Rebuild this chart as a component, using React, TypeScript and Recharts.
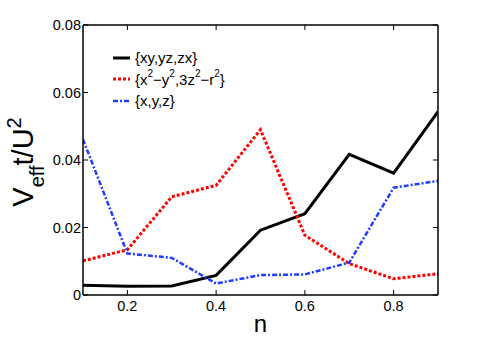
import { LineChart, Line, XAxis, YAxis, Legend, Label } from 'recharts';

const fillings = [0.1, 0.2, 0.3, 0.4, 0.5, 0.6, 0.7, 0.8, 0.9];
const t2gValues = [0.0029, 0.0026, 0.0027, 0.0058, 0.0192, 0.0241, 0.0417, 0.0361, 0.0543];
const egValues = [0.0101, 0.0134, 0.0291, 0.0325, 0.049, 0.0177, 0.0093, 0.0048, 0.0063];
const pValues = [0.0461, 0.0123, 0.011, 0.0034, 0.0059, 0.0061, 0.0096, 0.0318, 0.0338];
const xTicks = [0.2, 0.4, 0.6, 0.8];
const yTicks = [0, 0.02, 0.04, 0.06, 0.08];

const data = fillings.map((n, i) => ({ n, t2g: t2gValues[i], eg: egValues[i], p: pValues[i] }));

const FONT = '"Liberation Sans", Arial, Helvetica, sans-serif';
const TICK_LEN = 5;

const fmtY = (v: number) => (v === 0 ? '0' : v.toFixed(2));

const BottomTick = (props: any) => {
    const { x, y, payload } = props;
    return (
        <g>
            <line x1={x} x2={x} y1={y} y2={y - TICK_LEN} stroke="#000" strokeWidth={1} />
            <text x={x} y={y + 16} textAnchor="middle" fontSize={14.5} fontFamily={FONT} fill="#000">
                {payload.value}
            </text>
        </g>
    );
};

const TopTick = (props: any) => {
    const { x, y } = props;
    return <line x1={x} x2={x} y1={y} y2={y + TICK_LEN} stroke="#000" strokeWidth={1} />;
};

const LeftTick = (props: any) => {
    const { x, y, payload } = props;
    return (
        <g>
            <line x1={x} x2={x + TICK_LEN} y1={y} y2={y} stroke="#000" strokeWidth={1} />
            <text x={x - 2} y={y} dy={5} textAnchor="end" fontSize={14.5} fontFamily={FONT} fill="#000">
                {fmtY(payload.value)}
            </text>
        </g>
    );
};

const RightTick = (props: any) => {
    const { x, y } = props;
    return <line x1={x} x2={x - TICK_LEN} y1={y} y2={y} stroke="#000" strokeWidth={1} />;
};

const YTitle = (props: any) => {
    const vb = props.viewBox;
    const cx = 33;
    const cy = vb.y + vb.height / 2 + 2;
    return (
        <text
            x={cx}
            y={cy}
            transform={`rotate(-90, ${cx}, ${cy})`}
            textAnchor="middle"
            fontFamily={FONT}
            fontSize={29}
            fill="#000"
        >
            V
            <tspan fontSize={20} dy={11}>eff</tspan>
            <tspan dy={-11}>t/U</tspan>
            <tspan fontSize={20} dy={-12}>2</tspan>
        </text>
    );
};

const XTitle = (props: any) => {
    const vb = props.viewBox;
    return (
        <text x={vb.x + vb.width / 2} y={332} textAnchor="middle" fontFamily={FONT} fontSize={24} fill="#000">
            n
        </text>
    );
};

const legendItems = [
    { key: 't2g', color: '#000', dash: undefined, width: 3 },
    { key: 'eg', color: '#ff0000', dash: '3 2', width: 3 },
    { key: 'p', color: '#1f3cff', dash: '5 2 2 2', width: 2.5 },
];

const legendLabel = (key: string) => {
    const sup = { fontSize: 10, verticalAlign: 'top', lineHeight: '10px', position: 'relative' as const, top: -2 };
    if (key === 't2g') return <span>{'{xy,yz,zx}'}</span>;
    if (key === 'eg')
        return (
            <span>
                {'{x'}<span style={sup}>2</span>{'\u2212y'}<span style={sup}>2</span>{',3z'}
                <span style={sup}>2</span>{'\u2212r'}<span style={sup}>2</span>{'}'}
            </span>
        );
    return <span>{'{x,y,z}'}</span>;
};

const LegendBox = () => (
    <div style={{ fontFamily: FONT, fontSize: 15, color: '#000' }}>
        {legendItems.map((item) => (
            <div key={item.key} style={{ display: 'flex', alignItems: 'center', height: 21.5, whiteSpace: 'nowrap' }}>
                <svg width={20} height={10} style={{ marginRight: 3 }}>
                    <line
                        x1={1}
                        x2={18}
                        y1={5}
                        y2={5}
                        stroke={item.color}
                        strokeWidth={item.width}
                        strokeDasharray={item.dash}
                    />
                </svg>
                {legendLabel(item.key)}
            </div>
        ))}
    </div>
);

export default function App() {
    return (
        <div style={{ position: 'absolute', left: 0, top: 0, width: 485, height: 338, background: '#fff' }}>
            <LineChart width={485} height={338} data={data} margin={{ top: 24, right: 46, bottom: 0, left: 0 }}>
                <XAxis
                    dataKey="n"
                    type="number"
                    domain={[0.1, 0.9]}
                    ticks={xTicks}
                    height={43}
                    tickSize={0}
                    tickMargin={0}
                    tickLine={false}
                    tick={BottomTick}
                    axisLine={{ stroke: '#000', strokeWidth: 1.5 }}
                    allowDataOverflow
                >
                    <Label content={XTitle} />
                </XAxis>
                <XAxis
                    xAxisId="top"
                    dataKey="n"
                    orientation="top"
                    type="number"
                    domain={[0.1, 0.9]}
                    ticks={xTicks}
                    height={1}
                    tickSize={0}
                    tickMargin={0}
                    tickLine={false}
                    tick={TopTick}
                    axisLine={{ stroke: '#000', strokeWidth: 1.5 }}
                    allowDataOverflow
                />
                <YAxis
                    type="number"
                    domain={[0, 0.08]}
                    ticks={yTicks}
                    width={83}
                    tickSize={0}
                    tickMargin={0}
                    tickLine={false}
                    tick={LeftTick}
                    axisLine={{ stroke: '#000', strokeWidth: 1.5 }}
                    allowDataOverflow
                >
                    <Label content={YTitle} />
                </YAxis>
                <YAxis
                    yAxisId="right"
                    orientation="right"
                    type="number"
                    domain={[0, 0.08]}
                    ticks={yTicks}
                    width={1}
                    tickSize={0}
                    tickMargin={0}
                    tickLine={false}
                    tick={RightTick}
                    axisLine={{ stroke: '#000', strokeWidth: 1.5 }}
                    allowDataOverflow
                />
                <Legend
                    layout="vertical"
                    align="center"
                    verticalAlign="middle"
                    content={LegendBox}
                    wrapperStyle={{ left: 112, top: 47, width: 'auto', height: 'auto' }}
                />
                <Line
                    type="linear"
                    dataKey="t2g"
                    stroke="#000"
                    strokeWidth={3}
                    dot={false}
                    isAnimationActive={false}
                />
                <Line
                    type="linear"
                    dataKey="eg"
                    stroke="#ff0000"
                    strokeWidth={3}
                    strokeDasharray="3 2"
                    dot={false}
                    isAnimationActive={false}
                />
                <Line
                    type="linear"
                    dataKey="p"
                    stroke="#1f3cff"
                    strokeWidth={2.5}
                    strokeDasharray="5 2 2 2"
                    dot={false}
                    isAnimationActive={false}
                />
                {/* invisible series so the mirrored top/right axes of the box get drawn */}
                <Line
                    xAxisId="top"
                    yAxisId="right"
                    type="linear"
                    dataKey="t2g"
                    stroke="none"
                    dot={false}
                    activeDot={false}
                    legendType="none"
                    isAnimationActive={false}
                />
            </LineChart>
        </div>
    );
}
